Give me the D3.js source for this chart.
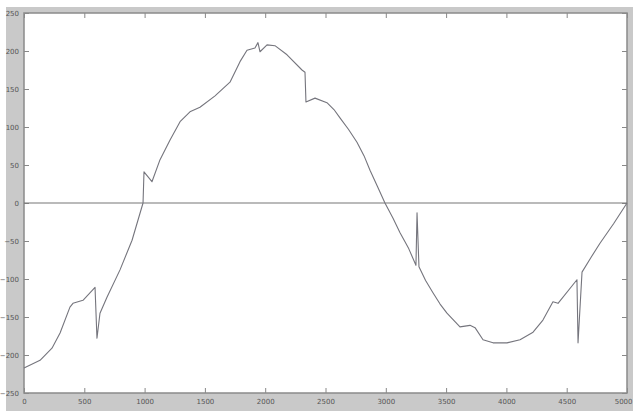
<!DOCTYPE html>
<html>
<head>
<meta charset="utf-8">
<script src="https://cdn.jsdelivr.net/npm/d3@7"></script>
<style>
  body { margin: 0; background: #fff; }
  svg { display: block; }
  .tick text { font-family: "DejaVu Sans", sans-serif; font-size: 7px; fill: #555; }
</style>
</head>
<body>
<div id="chart"></div>
<script>
// signal samples
var xs = [0, 133, 232, 299, 381, 406, 489, 589, 605, 630, 688, 796, 896, 987, 995, 1061, 1128, 1211, 1294, 1376,
  1459, 1584, 1708, 1791, 1849, 1915, 1940, 1957, 2015, 2081, 2181, 2305, 2330, 2338, 2413, 2512, 2570, 2620, 2690, 2761,
  2820, 2869, 2930, 2993, 3060, 3118, 3190, 3250, 3259, 3275, 3330, 3391, 3450, 3507, 3615, 3698, 3740, 3806, 3889, 4005,
  4113, 4221, 4303, 4386, 4428, 4585, 4594, 4627, 4700, 4776, 4890, 5000];
var ys = [-217, -207, -191, -171, -137, -132, -128, -111, -178, -145, -124, -88, -49, 0, 41, 28, 57, 83, 107, 120,
  126, 141, 159, 186, 201, 204, 211, 199, 208, 207, 195, 175, 172, 133, 138, 132, 123, 112, 97, 80,
  62, 43, 22, 0, -20, -39, -60, -82, -13, -84, -102, -118, -133, -145, -163, -161, -164, -180, -184, -184,
  -180, -170, -154, -130, -132, -101, -184, -91, -72, -53, -27, 0];
var xTicks = [0, 500, 1000, 1500, 2000, 2500, 3000, 3500, 4000, 4500, 5000];
var yTicks = [-250, -200, -150, -100, -50, 0, 50, 100, 150, 200, 250];

var W = 633, H = 411;
var margin = {top: 13, right: 6, bottom: 18, left: 24};
var width = W - margin.left - margin.right;
var height = H - margin.top - margin.bottom;

var root = d3.select("#chart").append("svg")
  .attr("width", W)
  .attr("height", H);

// grey figure background
root.append("rect")
  .attr("x", 6).attr("y", 7)
  .attr("width", W - 6).attr("height", H - 7)
  .attr("fill", "#c9c9c9");

var svg = root.append("g")
  .attr("transform", "translate(" + margin.left + "," + margin.top + ")");

svg.append("rect")
  .attr("width", width).attr("height", height)
  .attr("fill", "#fff");

var x = d3.scaleLinear().domain([0, 5000]).range([0, width]);
var y = d3.scaleLinear().domain([-250, 250]).range([height, 0]);
var fmt = d3.format("d");

// axes, ticks pointing inwards like matlab
var xb = svg.append("g")
  .attr("transform", "translate(0," + height + ")")
  .call(d3.axisBottom(x).tickValues(xTicks).tickFormat(fmt).tickSize(-5).tickPadding(6).tickSizeOuter(0));
xb.select(".domain").remove();
xb.selectAll(".tick text").filter(function(d){ return d === 5000; })
  .attr("text-anchor", "end").attr("dx", 5);

svg.append("g")
  .call(d3.axisTop(x).tickValues(xTicks).tickSize(-5).tickFormat("").tickSizeOuter(0))
  .call(function(g){ g.select(".domain").remove(); });
svg.append("g")
  .call(d3.axisLeft(y).tickValues(yTicks).tickFormat(fmt).tickSize(-5).tickPadding(5).tickSizeOuter(0))
  .call(function(g){ g.select(".domain").remove(); });
svg.append("g")
  .attr("transform", "translate(" + width + ",0)")
  .call(d3.axisRight(y).tickValues(yTicks).tickSize(-5).tickFormat("").tickSizeOuter(0))
  .call(function(g){ g.select(".domain").remove(); });
svg.selectAll(".tick line").attr("stroke", "#888");

// box
svg.append("rect")
  .attr("width", width).attr("height", height)
  .attr("fill", "none")
  .attr("stroke", "#8a8a8a")
  .attr("stroke-width", 1.5);

// zero line
svg.append("line")
  .attr("x1", 0).attr("x2", width)
  .attr("y1", y(0)).attr("y2", y(0))
  .attr("stroke", "#777")
  .attr("stroke-width", 1.2);

var pts = xs.map(function(d, i){ return [d, ys[i]]; });

svg.append("path")
  .datum(pts)
  .attr("fill", "none")
  .attr("stroke", "#75757d")
  .attr("stroke-width", 1.1)
  .attr("stroke-linejoin", "round")
  .attr("d", d3.line().x(function(d){ return x(d[0]); }).y(function(d){ return y(d[1]); }));
</script>
</body>
</html>
